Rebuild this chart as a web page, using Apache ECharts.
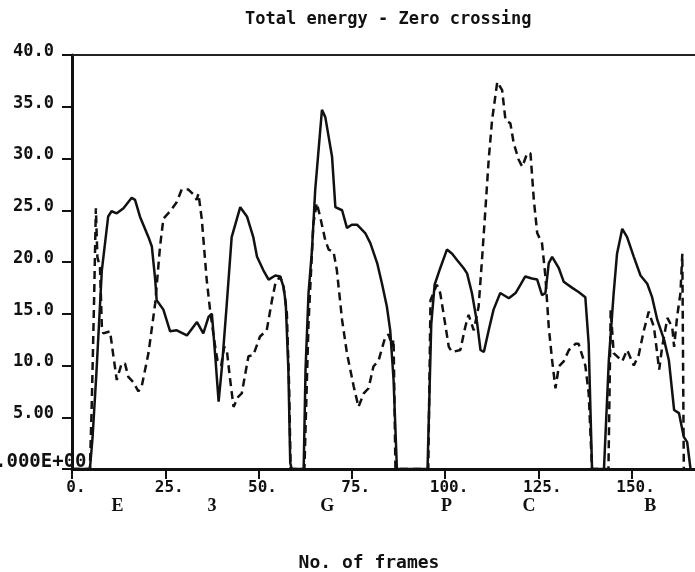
<!DOCTYPE html>
<html>
<head>
<meta charset="utf-8">
<script src="https://cdn.jsdelivr.net/npm/echarts@6/dist/echarts.min.js"></script>
<style>html,body{margin:0;padding:0;background:#fff}#c{width:695px;height:572px}</style>
</head>
<body>
<div id="c"></div>
<script>
var chartTitle = 'Total energy - Zero crossing';
var xAxisTitle = 'No. of frames';
var xTickValues = [0, 25, 50, 75, 100, 125, 150];
var xTickLabels = ['0.', '25.', '50.', '75.', '100.', '125.', '150.'];
var yTickValues = [0, 5, 10, 15, 20, 25, 30, 35, 40];
var yTickLabels = ['.000E+00', '5.00', '10.0', '15.0', '20.0', '25.0', '30.0', '35.0', '40.0'];
var phonemeLabels = ['E', '3', 'G', 'P', 'C', 'B'];
var phonemeFrames = [12.2, 37.5, 68.4, 100.4, 122.5, 155.0];

var energyPoints = [[0,0],[4.8,0],[5.5,3],[6.5,9],[8.0,19.2],[9.7,24.4],[10.6,24.9],[12.0,24.7],[13.8,25.2],[16.0,26.2],[16.9,26.0],[18.2,24.4],[20.5,22.4],[21.4,21.5],[22.3,18.3],[22.7,16.3],[24.5,15.4],[26.3,13.3],[28.1,13.4],[30.8,12.9],[33.5,14.2],[35.2,13.1],[36.6,14.7],[37.5,15.0],[38.4,10.9],[39.3,6.5],[40.2,9.9],[41.5,16.0],[42.8,22.4],[45.1,25.3],[46.9,24.4],[48.6,22.4],[49.6,20.5],[51.3,19.2],[52.7,18.3],[54.5,18.7],[55.8,18.6],[56.7,17.6],[57.3,16.0],[58.0,9.6],[58.5,0.6],[58.9,0],[62.1,0],[62.6,9.6],[63.4,17.0],[64.3,21.0],[65.2,27.0],[67.0,34.7],[67.9,34.0],[69.7,30.2],[70.6,25.3],[72.4,25.0],[73.7,23.3],[75.0,23.6],[76.4,23.6],[78.6,22.8],[80.0,21.8],[81.8,19.9],[83.1,17.9],[84.4,15.7],[85.3,13.4],[86.2,8.6],[87.1,0],[95.3,0],[96.3,14.0],[97.2,17.8],[98.7,19.4],[100.5,21.2],[101.9,20.8],[103.2,20.2],[105.0,19.4],[105.9,18.9],[107.2,17.0],[108.6,14.1],[109.5,11.5],[110.4,11.3],[111.7,13.4],[113.0,15.4],[114.8,17.0],[117.1,16.5],[118.9,17.0],[120.2,17.8],[121.5,18.6],[123.3,18.4],[124.7,18.3],[126.0,16.8],[126.9,17.0],[127.8,19.9],[128.7,20.5],[130.5,19.4],[131.8,18.1],[134.1,17.5],[135.8,17.1],[137.6,16.6],[138.5,12.1],[139.4,0],[142.6,0],[143.9,10.5],[145.2,17.0],[146.1,20.8],[147.5,23.2],[148.8,22.4],[150.6,20.5],[152.4,18.7],[154.2,17.9],[155.5,16.6],[156.9,14.4],[158.7,12.5],[160.0,10.5],[161.4,5.7],[162.7,5.4],[164.0,3.1],[164.9,2.6],[165.8,0]];

var zeroCrossPoints = [[0,0],[4.8,0],[5.3,6.3],[5.9,16.0],[6.4,25.2],[6.8,20.5],[7.5,19.5],[8.0,13.8],[8.4,13.1],[10.2,13.3],[11.1,10.9],[12.0,8.6],[13.3,10.2],[14.2,10.2],[15.1,8.9],[16.4,8.4],[17.8,7.5],[18.7,8.0],[20.5,11.2],[22.3,16.0],[23.6,21.5],[24.5,24.2],[26.3,24.9],[28.1,25.8],[29.4,27.0],[31.2,27.0],[32.6,26.5],[33.4,26.0],[33.9,26.6],[34.8,24.1],[36.1,18.3],[37.0,15.4],[38.3,12.0],[39.0,10.5],[40.0,10.0],[40.8,11.8],[41.5,11.5],[42.3,8.9],[43.3,6.0],[44.6,7.0],[45.5,7.3],[47.3,10.9],[48.6,11.0],[50.4,12.8],[52.2,13.4],[53.6,16.3],[54.5,17.9],[55.8,18.6],[56.7,17.6],[57.6,15.0],[58.2,8.0],[58.6,0],[62.3,0],[63.0,9.0],[63.4,14.1],[64.7,23.7],[65.6,25.7],[66.5,24.4],[67.9,22.1],[68.8,21.2],[70.1,21.0],[71.0,19.2],[72.4,14.4],[73.7,11.2],[75.5,8.0],[76.8,6.0],[78.2,7.3],[79.5,7.8],[80.8,9.9],[82.2,10.5],[84.0,12.8],[84.9,13.0],[85.8,11.8],[86.2,12.5],[86.7,0],[95.5,0],[96.1,16.3],[97.8,17.8],[98.7,17.0],[99.6,15.0],[101.0,11.8],[101.9,11.3],[104.1,11.5],[105.4,13.7],[106.3,14.9],[107.7,13.4],[109.0,15.7],[109.9,20.2],[110.8,25.0],[111.7,29.9],[112.6,33.7],[114.0,37.4],[115.3,36.6],[116.2,33.7],[117.5,33.4],[118.4,31.5],[119.7,29.9],[120.7,29.2],[122.0,30.5],[122.9,30.5],[123.8,26.0],[124.7,22.8],[126.0,21.8],[126.9,18.6],[127.8,13.7],[128.7,10.5],[129.6,7.8],[130.5,9.9],[131.8,10.4],[133.2,11.5],[135.0,12.1],[135.8,12.1],[137.6,10.0],[138.5,7.3],[139.4,0],[143.8,0],[144.4,15.4],[145.2,11.2],[147.5,10.4],[148.8,11.5],[150.6,10.0],[151.9,11.0],[153.3,13.4],[154.6,15.2],[156.0,13.7],[157.4,9.6],[158.2,11.8],[159.6,14.6],[160.9,13.7],[161.4,11.8],[162.2,14.7],[163.1,17.0],[163.6,20.8],[164.0,0]];

var MONO = '"DejaVu Sans Mono", monospace';
var INK = '#111';
var chart = echarts.init(document.getElementById('c'), null, {renderer: 'canvas'});

function lookup(values, labels, v) {
  for (var i = 0; i < values.length; i++) { if (Math.abs(values[i] - v) < 1e-6) return labels[i]; }
  return '';
}

chart.setOption({
  backgroundColor: '#fff',
  animation: false,
  title: {
    text: chartTitle, left: 240, top: 6,
    textStyle: {fontFamily: MONO, fontSize: 17, fontWeight: 'bold', color: INK}
  },
  grid: {left: 72, right: 0, top: 55, bottom: 103, containLabel: false, outerBoundsMode: 'none'},
  xAxis: [{
    type: 'value', min: 0, max: 167, interval: 25, position: 'bottom',
    name: xAxisTitle, nameLocation: 'middle', nameGap: 85,
    nameTextStyle: {fontFamily: MONO, fontSize: 18, fontWeight: 'bold', color: INK, padding: [0, 29, 0, 0]},
    axisLine: {show: true, onZero: false, lineStyle: {color: INK, width: 3}},
    axisTick: {show: true, length: 10, customValues: xTickValues, lineStyle: {color: INK, width: 2}},
    axisLabel: {
      customValues: xTickValues, margin: 11,
      formatter: function (v) { return '{a|' + lookup(xTickValues, xTickLabels, v) + '}'; },
      rich: {a: {fontFamily: MONO, fontSize: 16, fontWeight: 'bold', color: INK, padding: [0, 0, 0, 8]}}
    },
    splitLine: {show: false}
  }, {
    type: 'value', min: 0, max: 167, position: 'top',
    axisLine: {show: true, onZero: false, lineStyle: {color: '#222', width: 2}},
    axisTick: {show: false}, axisLabel: {show: false}, splitLine: {show: false}
  }, {
    type: 'value', min: 0, max: 167, position: 'bottom', offset: 20,
    axisLine: {show: false}, axisTick: {show: false}, splitLine: {show: false},
    axisLabel: {
      customValues: phonemeFrames, margin: 8,
      formatter: function (v) { return lookup(phonemeFrames, phonemeLabels, v); },
      fontFamily: '"Liberation Serif", serif', fontSize: 18, fontWeight: 'bold', color: INK
    }
  }],
  yAxis: {
    type: 'value', min: 0, max: 40, interval: 5,
    axisLine: {show: true, onZero: false, lineStyle: {color: INK, width: 3}},
    axisTick: {show: true, length: 10, lineStyle: {color: INK, width: 2}},
    splitLine: {show: false},
    axisLabel: {
      align: 'left', margin: 80,
      formatter: function (v) {
        var t = lookup(yTickValues, yTickLabels, v);
        return v === 0 ? '{z|' + t + '}' : '{n|' + t + '}';
      },
      rich: {
        n: {fontFamily: MONO, fontSize: 17, fontWeight: 'bold', color: INK, padding: [0, 0, 7, 21]},
        z: {fontFamily: MONO, fontSize: 19, fontWeight: 'bold', color: INK, padding: [0, 0, 14, 3]}
      }
    }
  },
  series: [{
    name: 'Total energy', type: 'line', data: energyPoints, showSymbol: false, symbol: 'none',
    lineStyle: {color: INK, width: 2.5, type: 'solid'}, z: 3
  }, {
    name: 'Zero crossing', type: 'line', data: zeroCrossPoints, showSymbol: false, symbol: 'none',
    lineStyle: {color: INK, width: 2.5, type: [8, 5]}, z: 2
  }]
});
</script>
</body>
</html>
